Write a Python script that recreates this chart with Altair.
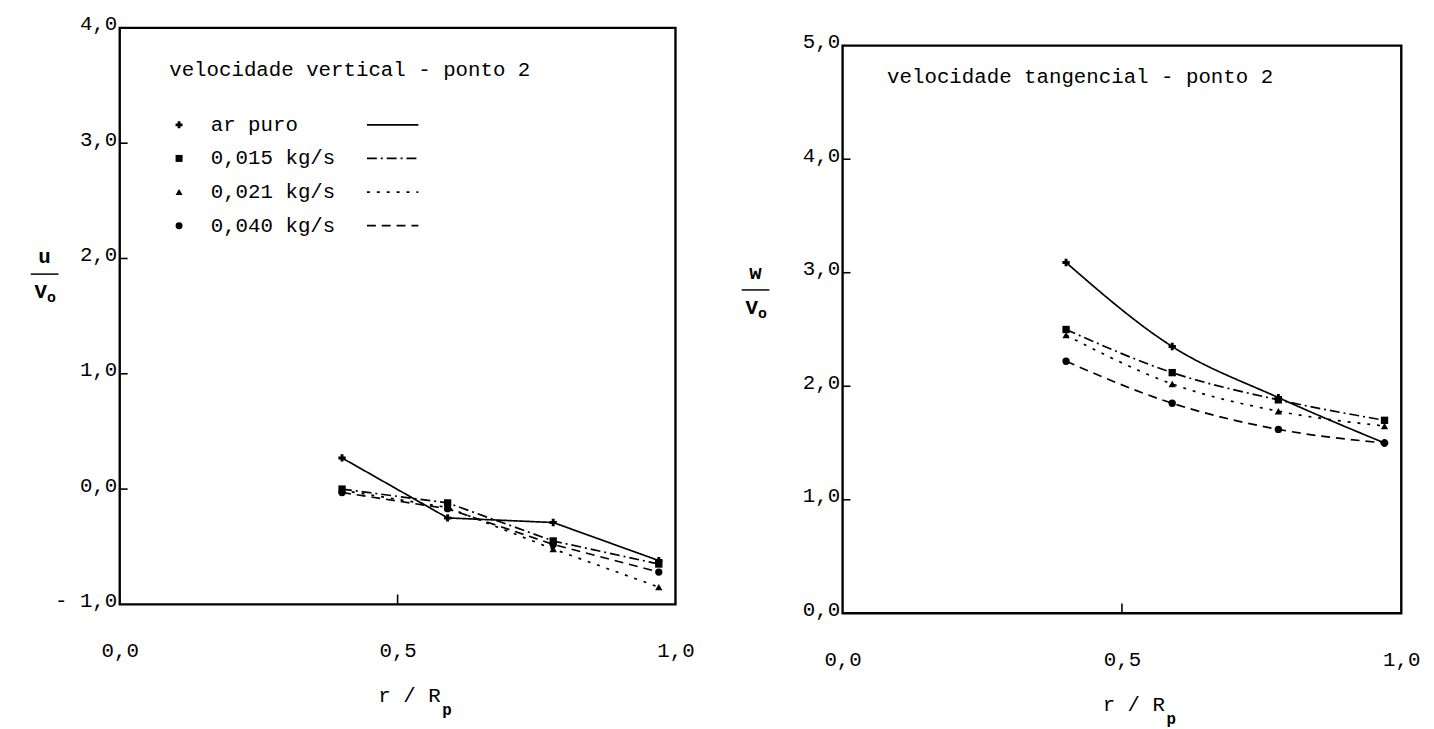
import altair as alt
import pandas as pd

# ---------------- data ----------------
r_pos = [0.40, 0.59, 0.78, 0.97]
series = ["ar puro", "0,015 kg/s", "0,021 kg/s", "0,040 kg/s"]

# vertical velocity u/V0 (left panel)
u_ar = [0.27, -0.25, -0.29, -0.62]
u_015 = [0.00, -0.12, -0.45, -0.65]
u_021 = [-0.01, -0.16, -0.52, -0.85]
u_040 = [-0.03, -0.17, -0.48, -0.72]

# tangential velocity w/V0 (right panel)
w_ar = [3.09, 2.35, 1.90, 1.50]
w_015 = [2.50, 2.12, 1.88, 1.70]
w_021 = [2.45, 2.02, 1.78, 1.65]
w_040 = [2.22, 1.85, 1.62, 1.50]

x_ticks = [0.0, 0.5, 1.0]
u_ticks = [-1, 0, 1, 2, 3, 4]
w_ticks = [0, 1, 2, 3, 4, 5]

title_left = "velocidade vertical  -  ponto 2"
title_right = "velocidade tangencial  -  ponto 2"

# ---------------- styles ----------------
FONT = "Liberation Mono"
FS = 21
shapes = ["cross", "square", "triangle-up", "circle"]
dashes = [[1, 0], [10, 4, 2, 4], [3, 7], [9, 6]]

LW, LH = 562, 583          # left plot area
RW, RH = 565, 592          # right plot area (frame starts 18px below top)
R_FRAME_OFF = 18
r_top = 5 * RH / (RH - R_FRAME_OFF)

fmt = ("datum.value < 0 ? '- ' + replace(format(abs(datum.value), '.1f'), '.', ',')"
       " : replace(format(datum.value, '.1f'), '.', ',')")


def long_df(vals):
    rows = []
    for s, ys in zip(series, vals):
        for xv, yv in zip(r_pos, ys):
            rows.append({"s": s, "x": xv, "y": yv})
    return pd.DataFrame(rows)


def panel(vals, ticks, ydom, frame_lo, frame_hi, W, H, title, title_xy,
          frac_top, frac_xy, legend, legend_xy, interp):
    xs = alt.Scale(domain=[0, 1], nice=False, zero=False)
    ys = alt.Scale(domain=ydom, nice=False, zero=False)
    xaxis = alt.Axis(values=x_ticks, labelExpr=fmt, domain=False, ticks=False,
                     grid=False, labelPadding=36, labelFlush=False,
                     labelFont=FONT, labelFontSize=FS, labelColor="black",
                     title="")
    yaxis = alt.Axis(values=ticks, labelExpr=fmt, domain=False, ticks=False,
                     grid=False, labelPadding=3, labelBaseline="alphabetic",
                     labelOffset=2, labelFont=FONT, labelFontSize=FS,
                     labelColor="black", title="")
    X = alt.X("x:Q", scale=xs, axis=xaxis)
    Y = alt.Y("y:Q", scale=ys, axis=yaxis)

    one = pd.DataFrame({"a": [0]})
    frame_df = pd.DataFrame({"x": [0.0], "x2": [1.0], "y": [frame_lo], "y2": [frame_hi]})
    frame = alt.Chart(frame_df).mark_rect(fillOpacity=0, stroke="black", strokeWidth=2.4).encode(
        x=X, x2="x2:Q", y=Y, y2="y2:Q")

    ytick_df = pd.DataFrame({"y": ticks[1:-1]})
    yt = alt.Chart(ytick_df).mark_rule(color="black", strokeWidth=1.6).encode(
        y=Y, x=alt.value(0), x2=alt.value(8))
    xtick_df = pd.DataFrame({"x": [0.5]})
    xt = alt.Chart(xtick_df).mark_rule(color="black", strokeWidth=1.6).encode(
        x=X, y=alt.value(H), y2=alt.value(H - 10))

    df = long_df(vals)
    lines = alt.Chart(df).mark_line(color="black", strokeWidth=1.7, interpolate=interp).encode(
        x=X, y=Y, detail="s:N",
        strokeDash=alt.StrokeDash("s:N", scale=alt.Scale(domain=series, range=dashes), legend=None))
    pts = alt.Chart(df).mark_point(filled=True, color="black", size=55, opacity=1).encode(
        x=X, y=Y,
        shape=alt.Shape("s:N", scale=alt.Scale(domain=series, range=shapes), legend=None))

    layers = [frame, yt, xt, lines, pts]

    # panel caption
    layers.append(alt.Chart(one).mark_text(text=title, font=FONT, fontSize=FS, align="left",
                                           baseline="middle", color="black").encode(
        x=alt.value(title_xy[0]), y=alt.value(title_xy[1])))

    # y-axis fraction label
    fx, fy = frac_xy
    layers.append(alt.Chart(one).mark_text(text=frac_top, font=FONT, fontSize=FS, fontWeight="bold",
                                           align="center", baseline="middle", color="black").encode(
        x=alt.value(fx), y=alt.value(fy)))
    layers.append(alt.Chart(one).mark_rule(color="black", strokeWidth=1.5).encode(
        x=alt.value(fx - 14), x2=alt.value(fx + 14), y=alt.value(fy + 17)))
    layers.append(alt.Chart(one).mark_text(text="V", font=FONT, fontSize=FS, fontWeight="bold",
                                           align="center", baseline="middle", color="black").encode(
        x=alt.value(fx - 4), y=alt.value(fy + 35)))
    layers.append(alt.Chart(one).mark_text(text="o", font=FONT, fontSize=15, fontWeight="bold",
                                           align="center", baseline="middle", color="black").encode(
        x=alt.value(fx + 7), y=alt.value(fy + 40)))

    # x-axis title r / Rp
    layers.append(alt.Chart(one).mark_text(text="r / R", font=FONT, fontSize=FS,
                                           align="center", baseline="middle", color="black").encode(
        x=alt.value(W / 2 + 12), y=alt.value(H + 93)))
    layers.append(alt.Chart(one).mark_text(text="p", font=FONT, fontSize=16, fontWeight="bold",
                                           align="center", baseline="middle", color="black").encode(
        x=alt.value(W / 2 + 50), y=alt.value(H + 107)))

    # legend
    if legend:
        lx, ly = legend_xy
        for i, s in enumerate(series):
            yy = ly + i * 34
            layers.append(alt.Chart(one).mark_point(shape=shapes[i], filled=True, color="black",
                                                    size=50, opacity=1).encode(
                x=alt.value(lx), y=alt.value(yy)))
            layers.append(alt.Chart(one).mark_text(text=s, font=FONT, fontSize=FS, align="left",
                                                   baseline="middle", color="black").encode(
                x=alt.value(lx + 32), y=alt.value(yy)))
            layers.append(alt.Chart(one).mark_rule(color="black", strokeWidth=1.7,
                                                   strokeDash=dashes[i]).encode(
                x=alt.value(lx + 190), x2=alt.value(lx + 242), y=alt.value(yy)))

    return alt.layer(*layers).properties(width=W, height=H)


left = panel([u_ar, u_015, u_021, u_040], u_ticks, [-1, 4], -1, 4, LW, LH,
             title_left, (50, 43), "u", (-76, 232), True, (60, 98), "linear")
right = panel([w_ar, w_015, w_021, w_040], w_ticks, [0, r_top], 0, 5, RW, RH,
              title_right, (45, 50), "w", (-88, 248), False, (0, 0), "monotone")

chart = alt.hconcat(left, right, spacing=45).properties(
    padding={"left": 21, "top": 0, "right": 5, "bottom": 5},
    background="white",
).configure_view(stroke="transparent")

chart.save("out.html", embed_options={"renderer": "svg", "actions": False})
